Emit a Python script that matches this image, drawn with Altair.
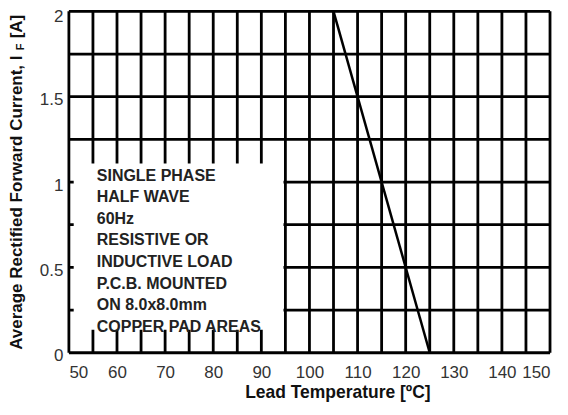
import altair as alt
import pandas as pd

# grid positions
grid_x = [50, 55, 60, 65, 70, 75, 80, 85, 90, 95, 100, 105, 110, 115, 120, 125, 130, 135, 140, 145, 150]
grid_y = [0, 0.25, 0.5, 0.75, 1.0, 1.25, 1.5, 1.75, 2.0]
x_ticks = [50, 60, 70, 80, 90, 100, 110, 120, 130, 140, 150]
y_ticks = [0, 0.5, 1, 1.5, 2]

# derating curve
temp = [105, 125]
current = [2.0, 0.0]

# note box
box_x = [51.0]
box_x2 = [94.6]
box_y = [0.134]
box_y2 = [1.108]
note_lines = ["SINGLE PHASE", "HALF WAVE", "60Hz", "RESISTIVE OR",
              "INDUCTIVE LOAD", "P.C.B. MOUNTED", "ON 8.0x8.0mm", "COPPER PAD AREAS"]
note_x = [55.8]
note_y = [1.085]

FONT = "Liberation Sans"

xs = alt.Scale(domain=[50, 150], nice=False, zero=False)
ys = alt.Scale(domain=[0, 2], nice=False, zero=False)

xaxis = alt.Axis(values=x_ticks, grid=False, ticks=False, domain=False,
                 labelFont=FONT, labelFontSize=17, labelColor="#333",
                 labelPadding=12, title="Lead Temperature [ºC]",
                 titleFont=FONT, titleFontSize=17.5, titleFontWeight="bold",
                 titleColor="#111", titleX=269, titleY=40, titleBaseline="middle")
yaxis = alt.Axis(values=y_ticks, grid=False, ticks=False, domain=False, format=".1~f",
                 labelFont=FONT, labelFontSize=17, labelColor="#333",
                 labelPadding=6, title=None, labelFlush=False,
                 labelOffset={"condition": {"test": "datum.value == 2", "value": 5}, "value": 3})

vgrid = alt.Chart(pd.DataFrame({"x": grid_x})).mark_rule(
    color="black", strokeWidth=2.8).encode(
    x=alt.X("x:Q", scale=xs, axis=xaxis))
hgrid = alt.Chart(pd.DataFrame({"y": grid_y})).mark_rule(
    color="black", strokeWidth=2.8).encode(
    y=alt.Y("y:Q", scale=ys, axis=yaxis))

box = alt.Chart(pd.DataFrame({"x": box_x, "x2": box_x2, "y": box_y, "y2": box_y2})).mark_rect(
    color="white").encode(x=alt.X("x:Q", scale=xs), x2="x2", y=alt.Y("y:Q", scale=ys), y2="y2")

note = alt.Chart(pd.DataFrame({"x": note_x, "y": note_y, "t": ["\n".join(note_lines)]})).mark_text(
    align="left", baseline="top", font=FONT, fontSize=16, fontWeight="bold",
    color="#222", lineBreak="\n", lineHeight=21.7).encode(
    x=alt.X("x:Q", scale=xs), y=alt.Y("y:Q", scale=ys), text="t:N")

curve = alt.Chart(pd.DataFrame({"t": temp, "i": current})).mark_line(
    color="black", strokeWidth=2.5).encode(
    x=alt.X("t:Q", scale=xs), y=alt.Y("i:Q", scale=ys))

ytitle_main = alt.Chart(pd.DataFrame({"a": [0]})).mark_text(
    text="Average Rectified Forward Current, I", angle=270, align="left",
    baseline="middle", font=FONT, fontSize=17, fontWeight="bold", color="#111").encode(
    x=alt.value(-52), y=alt.value(339))
ytitle_sub = alt.Chart(pd.DataFrame({"a": [0]})).mark_text(
    text="F", angle=270, align="left",
    baseline="middle", font=FONT, fontSize=11, fontWeight="bold", color="#111").encode(
    x=alt.value(-48), y=alt.value(39))
ytitle_end = alt.Chart(pd.DataFrame({"a": [0]})).mark_text(
    text="[A]", angle=270, align="left",
    baseline="middle", font=FONT, fontSize=17, fontWeight="bold", color="#111").encode(
    x=alt.value(-52), y=alt.value(27))

chart = alt.layer(vgrid, hgrid, box, note, curve, ytitle_main, ytitle_sub, ytitle_end).properties(
    width=482, height=342,
    autosize=alt.AutoSizeParams(type="none"),
    padding={"left": 61, "top": 3, "right": 10, "bottom": 55},
).configure_view(stroke=None).configure(background="white")

chart.save("out.html", embed_options={"renderer": "svg", "actions": False})
